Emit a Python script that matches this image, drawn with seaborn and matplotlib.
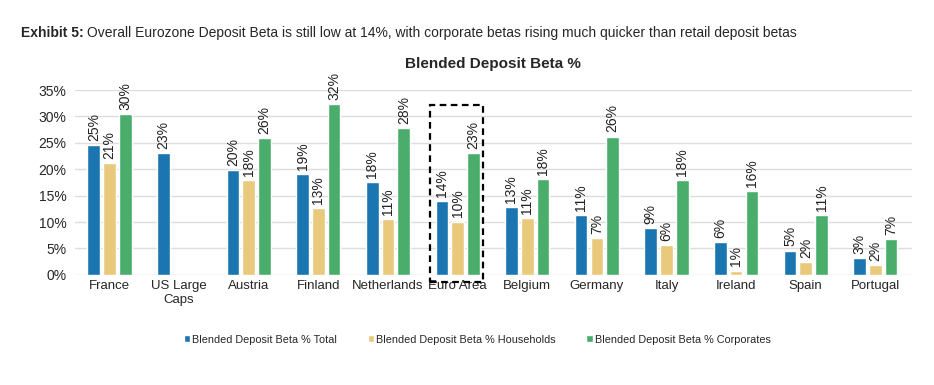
import seaborn as sns
import matplotlib.pyplot as plt
import pandas as pd
from matplotlib.patches import Rectangle

# values (percent)
countries = ["France", "US Large\nCaps", "Austria", "Finland", "Netherlands", "Euro Area",
             "Belgium", "Germany", "Italy", "Ireland", "Spain", "Portugal"]
total = [24.6, 23.0, 19.9, 19.1, 17.6, 13.9, 12.8, 11.3, 8.9, 6.2, 4.6, 3.2]
households = [21.2, None, 18.0, 12.7, 10.6, 10.1, 10.7, 7.0, 5.6, 0.8, 2.5, 1.9]
corporates = [30.4, None, 25.9, 32.3, 27.8, 23.1, 18.2, 26.2, 18.0, 15.8, 11.3, 6.8]
series = ["Blended Deposit Beta % Total", "Blended Deposit Beta % Households",
          "Blended Deposit Beta % Corporates"]
colors = ["#1b75b0", "#e9c97c", "#4aad6c"]

rows = []
for s, vals in zip(series, [total, households, corporates]):
    for c, v in zip(countries, vals):
        if v is not None:
            rows.append({"country": c, "series": s, "value": v})
df = pd.DataFrame(rows)

sns.set_style("white")
plt.rcParams["font.family"] = ["Liberation Sans", "DejaVu Sans"]

fig = plt.figure(figsize=(9.34, 3.85), dpi=100)
ax = fig.add_axes([0.080, 0.286, 0.896, 0.480])

sns.barplot(data=df, x="country", y="value", hue="series", order=countries,
            hue_order=series, palette=colors, width=0.68, gap=0.2,
            saturation=1, ax=ax, legend=True)

for cont in ax.containers:
    ax.bar_label(cont, labels=[f"{b.get_height():.0f}%" for b in cont],
                 rotation=90, padding=3, fontsize=10, color="#222222")

ax.set_xlim(-0.5, 11.52)
ax.set_ylim(0, 35)
ax.set_yticks(range(0, 36, 5))
ax.set_yticklabels([f"{t}%" for t in range(0, 36, 5)], fontsize=10)
ax.tick_params(axis="x", labelsize=9.5, length=0, pad=4)
ax.tick_params(axis="y", length=0, pad=6)
ax.yaxis.grid(True, color="#dddddd", linewidth=1)
ax.set_axisbelow(True)
for sp in ax.spines.values():
    sp.set_visible(False)
ax.set_xlabel("")
ax.set_ylabel("")

# dashed box around Euro Area
ax.add_patch(Rectangle((4.6, -1.3), 0.76, 33.5, fill=False, linestyle=(0, (3, 2)),
                       linewidth=1.6, edgecolor="black", clip_on=False, zorder=5))

ax.set_title("Blended Deposit Beta %", fontsize=11, fontweight="bold", pad=16)

handles, labels = ax.get_legend_handles_labels()
ax.get_legend().remove()
fig.legend(handles, labels, loc="center", bbox_to_anchor=(0.511, 0.118), ncol=3,
           frameon=False, fontsize=7.8, handlelength=0.6, handleheight=0.6,
           handletextpad=0.2, columnspacing=2.8)

fig.text(0.022, 0.905, "Exhibit 5:", fontsize=10, fontweight="bold")
fig.text(0.093, 0.905, "Overall Eurozone Deposit Beta is still low at 14%, with corporate betas "
         "rising much quicker than retail deposit betas", fontsize=10)

fig.savefig("out.png", dpi=100)
